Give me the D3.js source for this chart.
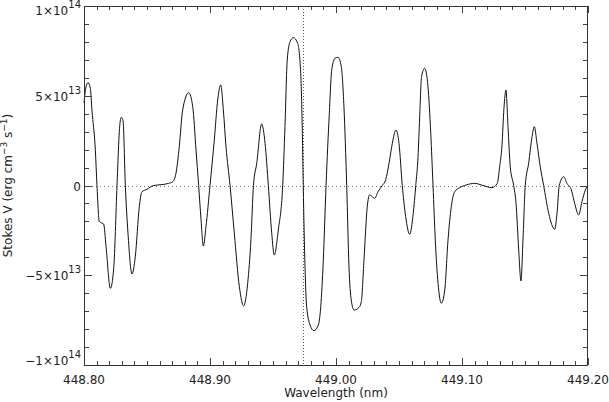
<!DOCTYPE html>
<html>
<head>
<meta charset="utf-8">
<script src="https://cdn.jsdelivr.net/npm/d3@7/dist/d3.min.js"></script>
<style>
  html, body { margin: 0; padding: 0; background: #fff; }
  svg { display: block; font-family: "DejaVu Sans", sans-serif; }
</style>
</head>
<body>
<svg id="chart" width="609" height="402"></svg>
<script>
// Wavelength (nm)
const wavelength = [
  448.8000, 448.8016, 448.8032, 448.8050, 448.8063, 448.8090, 448.8103, 448.8121, 448.8129, 448.8156,
  448.8175, 448.8209, 448.8236, 448.8262, 448.8283, 448.8296, 448.8310, 448.8328, 448.8349, 448.8381,
  448.8407, 448.8439, 448.8460, 448.8500, 448.8553, 448.8619, 448.8672, 448.8704, 448.8730, 448.8756,
  448.8783, 448.8831, 448.8863, 448.8889, 448.8910, 448.8929, 448.8947, 448.8968, 448.9000, 448.9034,
  448.9061, 448.9085, 448.9106, 448.9127, 448.9159, 448.9193, 448.9233, 448.9267, 448.9299, 448.9325,
  448.9345, 448.9371, 448.9410, 448.9437, 448.9463, 448.9490, 448.9510, 448.9542, 448.9577, 448.9595,
  448.9613, 448.9635, 448.9661, 448.9696, 448.9720, 448.9733, 448.9740, 448.9754, 448.9767, 448.9794,
  448.9825, 448.9860, 448.9879, 448.9899, 448.9921, 448.9947, 448.9966, 448.9992, 449.0016, 449.0042,
  449.0063, 449.0085, 449.0103, 449.0121, 449.0143, 449.0183, 449.0201, 449.0222, 449.0248, 449.0267,
  449.0288, 449.0307, 449.0333, 449.0367, 449.0394, 449.0421, 449.0447, 449.0476, 449.0500, 449.0526,
  449.0553, 449.0585, 449.0613, 449.0633, 449.0651, 449.0664, 449.0679, 449.0704, 449.0730, 449.0752,
  449.0770, 449.0788, 449.0810, 449.0836, 449.0863, 449.0889, 449.0915, 449.0942, 449.0982, 449.1034,
  449.1101, 449.1167, 449.1238, 449.1280, 449.1299, 449.1317, 449.1333, 449.1349, 449.1365, 449.1383,
  449.1410, 449.1429, 449.1450, 449.1468, 449.1484, 449.1502, 449.1529, 449.1556, 449.1574, 449.1595,
  449.1621, 449.1648, 449.1688, 449.1736, 449.1754, 449.1772, 449.1807, 449.1833, 449.1868, 449.1894,
  449.1926, 449.1952, 449.1979, 449.2000
];
// Stokes V in units of 1e13 erg cm^-3 s^-1
const stokesV = [
  4.60, 5.50, 5.73, 5.42, 4.20, 1.98, 0.00, -2.00, -2.05, -2.15,
  -3.40, -5.73, -4.60, 0.00, 3.28, 3.80, 3.60, 0.00, -2.65, -4.93,
  -3.97, -1.18, -0.35, -0.21, 0.00, 0.05, 0.12, 0.21, 0.68, 2.16,
  4.20, 5.17, 4.39, 1.98, 0.00, -1.92, -3.37, -2.30, 0.00, 2.53,
  4.76, 5.60, 4.20, 2.16, 0.00, -2.66, -5.64, -6.71, -5.45, -3.00,
  0.00, 1.24, 3.43, 2.35, 0.00, -2.66, -3.87, -2.48, 0.00, 3.28,
  6.99, 8.01, 8.24, 7.92, 6.25, 2.91, 0.00, -4.52, -6.75, -7.77,
  -8.09, -7.77, -6.75, -4.20, 0.00, 4.02, 6.43, 7.09, 7.14, 6.62,
  4.39, 0.00, -4.52, -6.38, -6.94, -6.79, -6.47, -4.15, -1.18, -0.53,
  -0.62, -0.71, -0.35, 0.00, 0.31, 1.24, 2.35, 3.09, 2.35, 0.00,
  -1.74, -2.72, -1.55, 0.00, 1.60, 3.80, 6.06, 6.53, 5.50, 2.91,
  0.00, -3.04, -5.45, -6.56, -5.82, -3.04, -1.18, -0.35, -0.12, 0.03,
  0.12, 0.00, -0.12, 0.12, 1.05, 2.20, 4.30, 5.32, 3.28, 1.05,
  0.00, -0.99, -3.59, -5.32, -3.04, 0.00, 1.24, 2.72, 3.28, 2.35,
  1.05, 0.00, -1.55, -2.44, -1.55, 0.00, 0.49, 0.12, -0.25, -0.99,
  -1.64, -0.90, -0.25, 0.03
];
const scaleFactor = 1e13;

const xDomain = [448.80, 449.20];
const yDomain = [-1e14, 1e14];
const xMajorTicks = [448.80, 448.90, 449.00, 449.10, 449.20];
const xTickLabels = ["448.80", "448.90", "449.00", "449.10", "449.20"];
const yMajorTicks = [1e14, 5e13, 0, -5e13, -1e14];
const yTickMantissa = ["1\u00d710", "5\u00d710", "0", "\u22125\u00d710", "\u22121\u00d710"];
const yTickExponent = ["14", "13", "", "13", "14"];
const markerWavelength = 448.974;

const xTitle = "Wavelength (nm)";

const svg = d3.select("#chart");
const L = 84, R = 588, T = 6, B = 365;
const x = d3.scaleLinear().domain(xDomain).range([L, R]);
const y = d3.scaleLinear().domain(yDomain).range([B, T]);

const axisColor = "#333";

// Dotted reference lines
svg.append("line")
  .attr("x1", L).attr("x2", R)
  .attr("y1", Math.round(y(0)) + 0.5).attr("y2", Math.round(y(0)) + 0.5)
  .attr("stroke", "#777").attr("stroke-width", 1).attr("stroke-dasharray", "1,3");
svg.append("line")
  .attr("x1", Math.round(x(markerWavelength)) + 0.5).attr("x2", Math.round(x(markerWavelength)) + 0.5)
  .attr("y1", T).attr("y2", B)
  .attr("stroke", "#555").attr("stroke-width", 1).attr("stroke-dasharray", "1,2");

// Data line
const data = wavelength.map((w, i) => ({ w, v: stokesV[i] * scaleFactor }));
svg.append("path")
  .datum(data)
  .attr("fill", "none")
  .attr("stroke", "#111")
  .attr("stroke-width", 1)
  .attr("d", d3.line().x(d => x(d.w)).y(d => y(d.v)).curve(d3.curveMonotoneX));

// Ticks
const xMinor = d3.range(0, 41).map(i => xDomain[0] + i * 0.01);
const yMinor = d3.range(-10, 11).map(i => i * 1e13);
const isXMajor = v => xMajorTicks.some(t => Math.abs(t - v) < 1e-6);
const isYMajor = v => yMajorTicks.some(t => Math.abs(t - v) < 1);

const tg = svg.append("g").attr("stroke", "#444").attr("stroke-width", 1);
xMinor.forEach(v => {
  const px = Math.round(x(v)) + 0.5;
  const len = isXMajor(v) ? 7 : 4;
  tg.append("line").attr("x1", px).attr("x2", px).attr("y1", B).attr("y2", B - len);
  tg.append("line").attr("x1", px).attr("x2", px).attr("y1", T).attr("y2", T + len);
});
yMinor.forEach(v => {
  const py = Math.round(y(v)) + 0.5;
  const len = isYMajor(v) ? 8 : 5;
  tg.append("line").attr("x1", L).attr("x2", L + len).attr("y1", py).attr("y2", py);
  tg.append("line").attr("x1", R).attr("x2", R - len).attr("y1", py).attr("y2", py);
});

// Frame
svg.append("rect")
  .attr("x", L + 0.5).attr("y", T + 0.5)
  .attr("width", R - L - 1).attr("height", B - T)
  .attr("fill", "none").attr("stroke", axisColor).attr("stroke-width", 1);

// X tick labels
svg.append("g").selectAll("text").data(xMajorTicks).join("text")
  .attr("x", d => x(d)).attr("y", 384)
  .attr("text-anchor", "middle")
  .attr("font-size", 12).attr("fill", "#222")
  .text((d, i) => xTickLabels[i]);

// Y tick labels (end labels nudged inside as in the reference)
const yNudge = [9, 5, 5, 5, 0];
svg.append("g").selectAll("text").data(yMajorTicks).join("text")
  .attr("x", 81).attr("y", (d, i) => y(d) + yNudge[i])
  .attr("text-anchor", "end")
  .attr("font-size", 12).attr("fill", "#222")
  .each(function (d, i) {
    const t = d3.select(this);
    t.append("tspan").text(yTickMantissa[i]);
    if (yTickExponent[i]) {
      t.append("tspan").attr("dy", -7).attr("font-size", 10).text(yTickExponent[i]);
    }
  });

// X title
svg.append("text")
  .attr("x", x(449.0)).attr("y", 397)
  .attr("text-anchor", "middle")
  .attr("font-size", 12).attr("fill", "#222")
  .text(xTitle);

// Y title
const yt = svg.append("text")
  .attr("transform", `translate(12,${(T + B) / 2}) rotate(-90)`)
  .attr("text-anchor", "middle")
  .attr("font-size", 12).attr("fill", "#222");
yt.append("tspan").text("Stokes V (erg cm");
yt.append("tspan").attr("dy", -5).attr("font-size", 9).text("\u22123");
yt.append("tspan").attr("dy", 5).text(" s");
yt.append("tspan").attr("dy", -5).attr("font-size", 9).text("\u22121");
yt.append("tspan").attr("dy", 5).text(")");
</script>
</body>
</html>
